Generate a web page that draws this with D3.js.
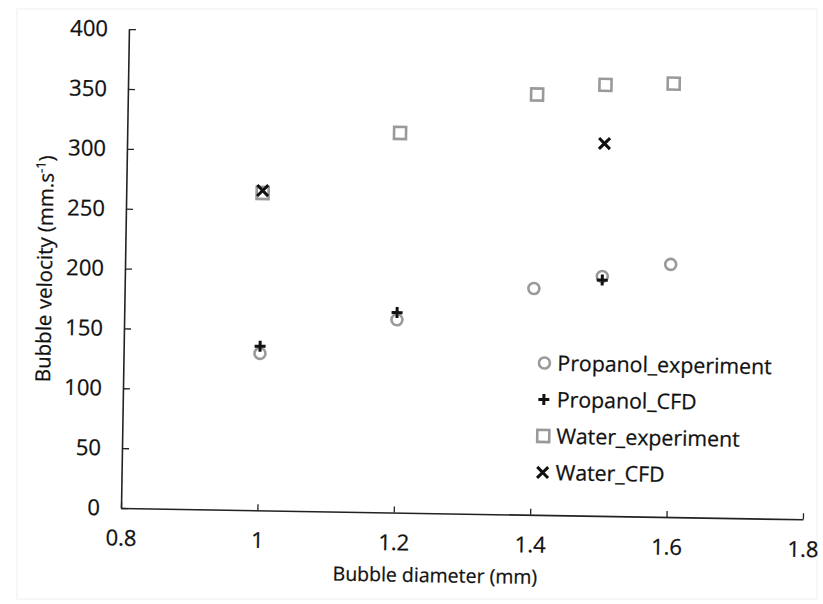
<!DOCTYPE html>
<html>
<head>
<meta charset="utf-8">
<script src="https://cdn.jsdelivr.net/npm/d3@7"></script>
<style>
  body { margin: 0; background: #fff; }
  svg text { font-family: "Open Sans", Lato, sans-serif; fill: #111; stroke: #111; stroke-width: 0.25px; }
</style>
</head>
<body>
<svg id="chart" width="823" height="604"></svg>
<script>
"use strict";

// Data
const SERIES_NAMES = ["Propanol_experiment", "Propanol_CFD", "Water_experiment", "Water_CFD"];
const PROPANOL_EXP_X = [1.0, 1.2, 1.4, 1.5, 1.6];
const PROPANOL_EXP_Y = [131, 161, 189, 200, 211];
const PROPANOL_CFD_X = [1.0, 1.2, 1.5];
const PROPANOL_CFD_Y = [137, 167, 197];
const WATER_EXP_X = [1.0, 1.2, 1.4, 1.5, 1.6];
const WATER_EXP_Y = [265, 317, 351, 360, 362];
const WATER_CFD_X = [1.0, 1.5];
const WATER_CFD_Y = [267, 311];
const X_TICKS = [0.8, 1, 1.2, 1.4, 1.6, 1.8];
const Y_TICKS = [0, 50, 100, 150, 200, 250, 300, 350, 400];

// Layout
const ORIGIN_X = 121;
const ORIGIN_Y = 508;
const PLOT_W = 682;
const PLOT_H = 479;
const TILT = 0.95; // the scan is slightly rotated
const FONT = "'Open Sans', Lato, sans-serif";

const svg = d3.select("#chart");

// faint scan border
svg.append("rect")
  .attr("x", 17).attr("y", 9).attr("width", 800).attr("height", 590)
  .attr("fill", "none").attr("stroke", "#f0f0f0");

const g = svg.append("g")
  .attr("transform", "rotate(" + TILT + "," + ORIGIN_X + "," + ORIGIN_Y + ")");

const xScale = d3.scaleLinear().domain([0.8, 1.8]).range([ORIGIN_X, ORIGIN_X + PLOT_W]);
const yScale = d3.scaleLinear().domain([0, 400]).range([ORIGIN_Y, ORIGIN_Y - PLOT_H]);

// Axes
const xAxis = d3.axisBottom(xScale)
  .tickValues(X_TICKS)
  .tickFormat(d3.format("~g"))
  .tickSizeInner(-6)
  .tickSizeOuter(0)
  .tickPadding(22);

const yAxis = d3.axisLeft(yScale)
  .tickValues(Y_TICKS)
  .tickSizeInner(-7)
  .tickSizeOuter(0)
  .tickPadding(21);

const gx = g.append("g").attr("transform", "translate(0," + ORIGIN_Y + ")").call(xAxis);
const gy = g.append("g").attr("transform", "translate(" + ORIGIN_X + ",0)").call(yAxis);

[gx, gy].forEach(function(ax) {
  ax.select(".domain").attr("stroke", "#222").attr("stroke-width", 1.6);
  ax.selectAll(".tick line").attr("stroke", "#222").attr("stroke-width", 1.3);
  ax.selectAll(".tick text")
    .attr("font-size", 22)
    .attr("font-family", FONT)
    .attr("fill", "#111");
});

// Axis titles
g.append("text")
  .attr("x", 436)
  .attr("y", 577)
  .attr("text-anchor", "middle")
  .attr("font-size", 19.5)
  .text("Bubble diameter (mm)");

const yTitle = g.append("text")
  .attr("transform", "translate(48,270) rotate(-90)")
  .attr("text-anchor", "middle")
  .attr("font-size", 20.5);
yTitle.append("tspan").text("Bubble velocity (mm.s");
yTitle.append("tspan").attr("dy", -8).attr("font-size", 13).text("-1");
yTitle.append("tspan").attr("dy", 8).text(")");

// Marker drawers
const GRAY = "#9a9a9a";
function circleMark(sel, cx, cy) {
  sel.append("circle").attr("cx", cx).attr("cy", cy).attr("r", 5.5)
    .attr("fill", "none").attr("stroke", GRAY).attr("stroke-width", 2.6);
}
function squareMark(sel, cx, cy) {
  sel.append("rect").attr("x", cx - 6).attr("y", cy - 6).attr("width", 12).attr("height", 12)
    .attr("fill", "none").attr("stroke", GRAY).attr("stroke-width", 2.6);
}
function plusMark(sel, cx, cy) {
  sel.append("path")
    .attr("d", "M" + (cx - 5.5) + "," + cy + "H" + (cx + 5.5) + "M" + cx + "," + (cy - 5.5) + "V" + (cy + 5.5))
    .attr("stroke", "#111").attr("stroke-width", 3).attr("fill", "none");
}
function crossMark(sel, cx, cy) {
  const s = 5.5;
  sel.append("path")
    .attr("d", "M" + (cx - s) + "," + (cy - s) + "L" + (cx + s) + "," + (cy + s) +
      "M" + (cx + s) + "," + (cy - s) + "L" + (cx - s) + "," + (cy + s))
    .attr("stroke", "#111").attr("stroke-width", 3).attr("fill", "none");
}

const SERIES = [
  { name: SERIES_NAMES[0], xs: PROPANOL_EXP_X, ys: PROPANOL_EXP_Y, mark: circleMark },
  { name: SERIES_NAMES[2], xs: WATER_EXP_X, ys: WATER_EXP_Y, mark: squareMark },
  { name: SERIES_NAMES[1], xs: PROPANOL_CFD_X, ys: PROPANOL_CFD_Y, mark: plusMark },
  { name: SERIES_NAMES[3], xs: WATER_CFD_X, ys: WATER_CFD_Y, mark: crossMark }
];

const gPoints = g.append("g");
SERIES.forEach(function(s) {
  s.xs.forEach(function(xv, i) {
    s.mark(gPoints, xScale(xv), yScale(s.ys[i]));
  });
});

// Legend
const LEGEND_MARKS = [circleMark, plusMark, squareMark, crossMark];
const gLegend = g.append("g").attr("transform", "translate(542,356)");
SERIES_NAMES.forEach(function(name, i) {
  const row = gLegend.append("g").attr("transform", "translate(0," + i * 36.5 + ")");
  LEGEND_MARKS[i](row, 0, 0);
  row.append("text")
    .attr("x", 13)
    .attr("y", 0)
    .attr("dy", "0.35em")
    .attr("font-size", 21.3)
    .text(name);
});
</script>
</body>
</html>
